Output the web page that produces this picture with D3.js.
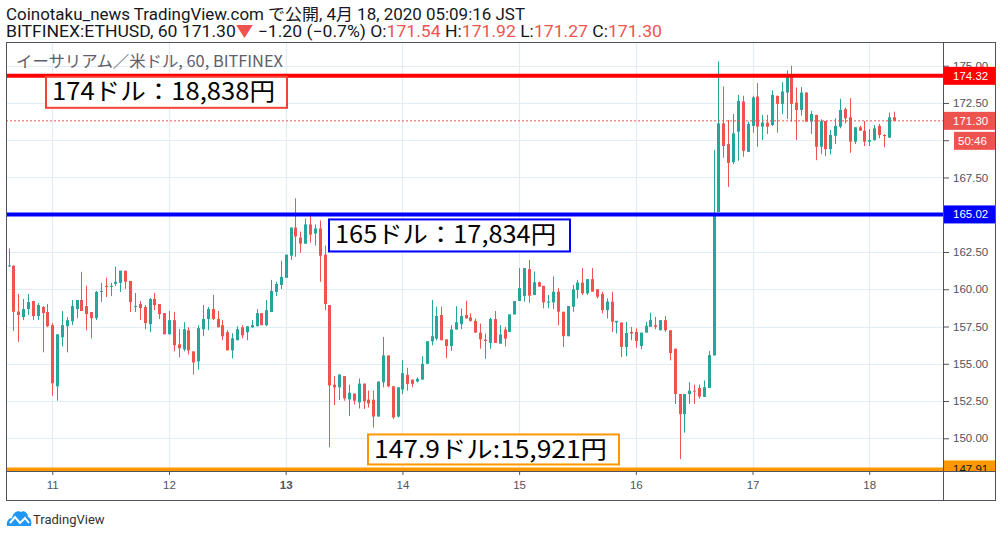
<!DOCTYPE html>
<html><head><meta charset="utf-8">
<script src="https://cdn.jsdelivr.net/npm/d3@7"></script>
<style>body{margin:0;background:#fff;} svg{display:block}</style>
</head><body>
<svg id="c" width="1002" height="537"></svg>
<script>
// ---------- data ----------
const startTime = "2020-04-10T15:00:00Z"; // first hourly candle (JST shown as UTC)
const opens = [161.55,161.58,158.5,158.13,158.67,159.21,158.2,158.81,158.47,157.59,153.49,156.78,157.52,157.86,158.67,159.28,158.87,158.47,158.06,159.82,160.23,160.16,160.36,160.43,161.24,160.56,158.81,159.01,158.81,157.66,159.35,159.01,158.4,156.98,157.93,156.31,155.97,157.25,155.83,155.16,157.32,158.0,158.67,158.0,157.59,157.12,155.9,156.58,157.45,157.12,157.45,157.52,158.4,157.59,158.47,159.82,160.29,160.77,162.25,164.14,163.47,163.06,164.35,163.74,164.08,162.32,158.94,153.6,153.42,154.17,152.61,153.0,152.41,153.67,152.59,152.59,151.46,153.76,155.56,153.49,151.46,153.27,154.26,153.94,153.81,153.94,155.0,156.51,156.69,158.27,156.64,156.19,157.3,157.66,158.27,158.11,157.88,157.09,156.62,156.4,158.0,156.35,157.3,157.14,158.31,159.21,159.55,161.35,159.62,160.47,160.23,159.1,159.12,159.84,158.49,156.85,158.83,159.95,160.45,159.73,160.68,160.0,159.68,158.6,159.17,157.77,157.77,156.13,157.14,157.14,156.19,157.09,157.48,157.59,157.25,157.93,157.25,156.01,152.97,151.62,152.97,153.2,153.38,152.78,153.38,155.56,165.18,171.13,169.74,168.53,170.57,172.6,169.22,170.96,172.93,170.91,171.18,171.02,172.98,172.44,173.2,174.24,172.53,172.03,173.2,171.25,171.7,169.56,171.29,169.4,170.3,170.91,172.08,171.54,169.9,170.87,170.64,169.9,170.01,170.96,170.35,170.17,171.54];
const highs = [162.73,161.6,159.68,159.35,159.68,159.21,159.08,158.87,159.01,157.73,156.98,158.54,158.13,159.28,159.28,161.17,160.23,158.47,159.89,160.43,160.77,160.43,161.51,161.24,161.24,160.56,159.75,159.21,158.94,159.41,159.75,159.01,158.4,158.54,158.47,157.32,157.79,157.45,155.83,157.59,158.94,158.81,159.62,158.54,157.93,157.25,157.05,157.52,157.59,157.52,157.93,158.67,158.4,159.28,160.63,160.5,161.91,162.32,164.14,166.1,163.87,164.75,164.95,164.35,164.62,162.93,158.94,154.17,154.28,154.17,153.6,153.0,154.01,153.67,153.2,153.2,153.81,156.8,155.56,153.49,153.42,155.25,154.73,153.94,154.1,155.5,156.51,159.28,158.83,158.83,156.64,157.59,158.87,158.72,159.23,158.38,158.04,157.7,157.03,158.09,158.54,157.59,157.48,158.31,159.21,161.42,161.42,161.98,161.19,160.52,160.23,159.62,160.86,160.07,158.49,158.87,160.29,160.63,161.42,160.68,161.42,160.0,159.84,159.39,159.84,157.88,157.77,157.82,157.48,157.37,157.09,157.82,158.42,158.15,157.93,158.2,157.25,156.01,152.97,152.97,153.76,153.6,153.61,153.88,155.85,169.34,175.29,173.61,171.36,171.76,173.04,172.98,171.25,172.98,173.83,171.7,171.7,173.34,172.98,173.9,174.69,175.0,173.54,173.56,173.2,171.97,171.7,171.4,171.29,170.69,171.47,172.78,172.19,172.82,170.87,170.96,171.29,170.75,171.02,171.09,170.42,171.85,171.92];
const lows = [161.5,157.21,156.46,157.93,158.27,157.93,157.93,155.77,157.45,152.86,152.52,156.17,155.77,157.59,158.06,158.54,157.25,156.71,157.93,159.14,159.48,159.55,160.23,159.82,160.02,158.47,158.47,157.93,157.32,157.12,158.6,158.0,156.98,156.98,155.83,155.43,155.83,155.63,154.28,154.62,156.85,157.25,157.93,157.45,156.58,155.9,155.36,156.58,156.71,156.58,157.39,157.52,157.59,157.52,158.47,159.55,160.02,160.77,161.98,162.18,162.45,163.06,163.13,162.93,160.5,158.6,149.4,152.23,152.57,152.52,151.49,152.27,152.0,151.96,152.07,150.72,151.46,153.42,153.42,151.28,151.4,152.97,153.2,153.42,153.76,153.94,155.0,156.24,156.58,156.58,155.38,155.86,157.3,157.32,158.04,157.82,157.09,156.01,155.34,156.01,156.4,156.35,156.17,157.14,158.31,159.21,159.17,159.1,159.62,160.18,158.72,158.72,158.67,157.59,156.13,156.85,158.49,159.39,159.62,159.62,159.84,159.39,158.38,158.04,157.14,157.03,155.45,155.5,156.58,156.08,155.97,157.09,157.48,157.32,157.25,157.14,155.23,152.3,148.6,150.38,152.3,152.3,152.66,152.78,153.38,155.56,165.18,168.82,166.87,168.39,168.62,168.89,169.22,170.51,169.56,170.01,170.42,170.96,170.51,171.76,171.43,171.25,170.01,171.65,171.25,170.42,168.66,169.07,168.93,169.04,169.74,170.8,171.13,169.16,169.74,170.64,169.61,169.61,169.97,170.12,169.52,170.17,171.27];
const closes = [161.6,158.49,158.27,158.67,159.14,158.2,158.94,158.4,157.52,153.69,156.98,157.59,157.93,158.87,159.28,158.54,158.33,158.06,159.82,159.89,160.16,160.23,160.5,161.24,160.5,159.14,158.87,158.74,157.73,159.35,158.94,158.33,156.98,157.93,156.24,156.04,157.32,155.9,155.09,157.39,158.0,158.67,158.0,157.45,156.85,155.9,156.71,157.32,156.91,157.52,157.59,158.4,157.59,158.6,159.89,160.36,160.83,162.32,164.14,163.54,163.06,164.35,163.67,164.08,162.25,159.01,153.54,153.42,154.28,152.68,153.06,152.52,153.67,152.48,152.34,151.46,153.81,155.56,153.49,151.4,153.42,154.37,153.65,153.65,153.99,155.0,156.51,156.85,158.2,156.58,156.19,157.3,157.79,158.2,158.04,157.88,157.09,156.64,156.53,158.0,156.4,156.96,156.69,158.31,159.21,160.07,161.42,159.57,160.47,160.18,159.12,159.17,159.84,158.49,156.85,158.87,160.0,160.45,159.73,160.68,159.84,159.5,158.6,159.17,157.82,157.88,156.13,157.07,157.03,156.53,157.09,157.55,157.93,157.48,157.93,157.25,155.72,152.97,151.62,152.97,153.2,153.15,152.8,153.43,155.58,164.96,171.13,169.61,168.48,170.46,172.64,169.29,171.09,172.87,170.91,171.18,170.91,173.04,172.44,173.27,174.24,172.44,172.03,173.2,171.25,171.76,169.56,171.29,169.4,170.35,170.96,172.03,171.47,169.9,170.87,170.64,169.9,170.01,170.8,170.35,170.28,171.54,171.30];

const priceTicks = [150, 152.5, 155, 157.5, 160, 162.5, 165, 167.5, 170, 172.5, 175];
const hiddenTickLabels = [170]; // covered by the countdown box in the reference
const dayTicks = ["2020-04-11","2020-04-12","2020-04-13","2020-04-14","2020-04-15","2020-04-16","2020-04-17","2020-04-18"];
const dayLabels = ["11","12","13","14","15","16","17","18"];

const levels = [174.32, 165.02, 147.91];
const levelColors = ["#ff0000", "#0000ff", "#ff9800"];
const levelTextColors = ["#ffffff", "#ffffff", "#131722"];
const notes = ["174ドル：18,838円", "165ドル：17,834円", "147.9ドル:15,921円"];

const lastPrice = 171.30;
const countdown = "50:46";
const titleLine1 = "Coinotaku_news TradingView.com で公開, 4月 18, 2020 05:09:16 JST";
const titleLine2 = [["BITFINEX:ETHUSD, 60 171.30","#131722"],["▼","#ef5350"],[" −1.20 (−0.7%) O:","#131722"],["171.54","#ef5350"],[" H:","#131722"],["171.92","#ef5350"],[" L:","#131722"],["171.27","#ef5350"],[" C:","#131722"],["171.30","#ef5350"]];
const chartTitle = "イーサリアム／米ドル, 60, BITFINEX";

// ---------- layout ----------
const L = 6, R = 943, T = 42, B = 471, RB = 995, BB = 500;
const UP = "#26a69a", DOWN = "#ef5350", GRID = "#e3ecf3", FRAME = "#50535e";
const FONT = "Roboto, 'Noto Sans CJK JP', 'Liberation Sans', sans-serif";
const AXFONT = "'Liberation Sans', Arial, sans-serif";

const svg = d3.select("#c");
const t0 = new Date(startTime);
const candles = opens.map((o, i) => ({
  t: d3.utcHour.offset(t0, i), o, h: highs[i], l: lows[i], c: closes[i]
}));

const x = d3.scaleUtc()
  .domain([new Date("2020-04-10T14:29:00Z"), new Date("2020-04-18T15:10:00Z")])
  .range([L, R]);
const y = d3.scaleLinear().domain([150, 175]).range([438.3, 65.7]);

// header
svg.append("text").attr("x", 6).attr("y", 20).attr("font-family", FONT).attr("font-size", 16)
  .attr("fill", "#131722").attr("textLength", 519).attr("lengthAdjust", "spacingAndGlyphs").text(titleLine1);
const t2 = svg.append("text").attr("x", 6).attr("y", 37).attr("font-family", FONT).attr("font-size", 16)
  .attr("textLength", 656).attr("lengthAdjust", "spacingAndGlyphs");
t2.selectAll("tspan").data(titleLine2).join("tspan").attr("fill", d => d[1]).text(d => d[0]);

// clips
svg.append("clipPath").attr("id", "plot").append("rect").attr("x", L).attr("y", T).attr("width", R - L).attr("height", B - T);
svg.append("clipPath").attr("id", "axisclip").append("rect").attr("x", R).attr("y", T).attr("width", RB - R).attr("height", B - T);

// grid
const grid = svg.append("g").attr("clip-path", "url(#plot)");
grid.selectAll("line.h").data(priceTicks).join("line")
  .attr("x1", L).attr("x2", R).attr("y1", d => Math.round(y(d)) + 0.5).attr("y2", d => Math.round(y(d)) + 0.5)
  .attr("stroke", GRID).attr("stroke-width", 1.2);
grid.selectAll("line.v").data(dayTicks).join("line")
  .attr("y1", T).attr("y2", B).attr("x1", d => Math.round(x(new Date(d + "T00:00:00Z"))) + 0.5)
  .attr("x2", d => Math.round(x(new Date(d + "T00:00:00Z"))) + 0.5)
  .attr("stroke", GRID).attr("stroke-width", 1.2);

// chart title
svg.append("text").attr("x", 16).attr("y", 67).attr("font-family", "'Noto Sans CJK JP', sans-serif")
  .attr("font-size", 16).attr("fill", "#5d606b").attr("textLength", 267).attr("lengthAdjust", "spacingAndGlyphs")
  .text(chartTitle);

// candles
const cg = svg.append("g").attr("clip-path", "url(#plot)");
const cs = cg.selectAll("g.c").data(candles).join("g");
cs.append("line")
  .attr("x1", d => Math.round(x(d.t)) + 0.5).attr("x2", d => Math.round(x(d.t)) + 0.5)
  .attr("y1", d => y(d.h)).attr("y2", d => y(d.l))
  .attr("stroke", d => d.c >= d.o ? UP : DOWN).attr("stroke-width", 1);
cs.append("rect")
  .attr("x", d => Math.round(x(d.t)) - 1).attr("width", 3)
  .attr("y", d => y(Math.max(d.o, d.c)))
  .attr("height", d => Math.max(1, Math.abs(y(d.o) - y(d.c))))
  .attr("fill", d => d.c >= d.o ? UP : DOWN);

// last price dashed line
cg.append("line").attr("x1", L).attr("x2", R).attr("y1", y(lastPrice)).attr("y2", y(lastPrice))
  .attr("stroke", DOWN).attr("stroke-width", 1).attr("stroke-dasharray", "2,2");

// level lines
cg.selectAll("line.lv").data(levels).join("line")
  .attr("x1", L).attr("x2", R).attr("y1", d => y(d)).attr("y2", d => y(d))
  .attr("stroke", (d, i) => levelColors[i]).attr("stroke-width", 4);

// annotation boxes
const boxes = [
  {x: 46, y: y(levels[0]) + 1, w: 241, h: 31, tx: 52, tb: 23, tl: 223},
  {x: 329, y: y(levels[1]) + 5, w: 241, h: 32, tx: 335, tb: 24, tl: 221},
  {x: 368, y: y(levels[2]) - 35, w: 251, h: 30, tx: 374, tb: 24, tl: 233}
];
boxes.forEach((b, i) => {
  const g = svg.append("g");
  g.append("rect").attr("x", b.x).attr("y", b.y).attr("width", b.w).attr("height", b.h)
    .attr("fill", "#fff").attr("stroke", i === 0 ? "#f44336" : levelColors[i]).attr("stroke-width", 2);
  g.append("text").attr("x", b.tx).attr("y", b.y + b.tb).attr("font-family", "'Noto Sans CJK JP', sans-serif")
    .attr("font-size", 24).attr("fill", "#000").attr("textLength", b.tl).attr("lengthAdjust", "spacingAndGlyphs")
    .text(notes[i]);
});

// frame
svg.append("rect").attr("x", L + 0.5).attr("y", T + 0.5).attr("width", RB - L).attr("height", BB - T)
  .attr("fill", "none").attr("stroke", FRAME).attr("stroke-width", 1);
svg.append("line").attr("x1", R + 0.5).attr("x2", R + 0.5).attr("y1", T).attr("y2", BB).attr("stroke", FRAME);
svg.append("line").attr("x1", L).attr("x2", RB).attr("y1", B + 0.5).attr("y2", B + 0.5).attr("stroke", FRAME);

// price axis
const yAxis = d3.axisRight(y).tickValues(priceTicks).tickSize(5).tickPadding(4)
  .tickFormat(d => hiddenTickLabels.includes(d) ? "" : d3.format(".2f")(d));
const yaWrap = svg.append("g").attr("clip-path", "url(#axisclip)");
const ya = yaWrap.append("g").attr("transform", `translate(${R + 1},0)`).call(yAxis);
ya.select(".domain").remove();
ya.selectAll("line").attr("stroke", "#50535e");
ya.selectAll("text").attr("font-family", AXFONT).attr("font-size", 11.5).attr("fill", "#50535e");

// axis price labels
const al = svg.append("g").attr("clip-path", "url(#axisclip)");
const axisLabels = [
  {v: levels[0], bg: levelColors[0], fg: levelTextColors[0]},
  {v: lastPrice, bg: DOWN, fg: "#fff"},
  {v: levels[1], bg: levelColors[1], fg: levelTextColors[1]},
  {v: levels[2], bg: levelColors[2], fg: levelTextColors[2]}
];
axisLabels.forEach(a => {
  al.append("rect").attr("x", R + 1).attr("y", y(a.v) - 9).attr("width", RB - R - 1).attr("height", 18).attr("fill", a.bg);
  al.append("text").attr("x", 953).attr("y", y(a.v) + 4).attr("font-family", AXFONT)
    .attr("font-size", 11.5).attr("fill", a.fg).text(a.v.toFixed(2));
});
al.append("rect").attr("x", 954).attr("y", y(lastPrice) + 11).attr("width", RB - 954).attr("height", 18).attr("fill", DOWN);
al.append("text").attr("x", 958).attr("y", y(lastPrice) + 24).attr("font-family", AXFONT)
  .attr("font-size", 11.5).attr("fill", "#fff").text(countdown);

// time axis
const xAxis = d3.axisBottom(x).tickValues(dayTicks.map(d => new Date(d + "T00:00:00Z")))
  .tickSize(4).tickPadding(6).tickFormat((d, i) => dayLabels[i]);
const xa = svg.append("g").attr("transform", `translate(0,${B})`).call(xAxis);
xa.select(".domain").remove();
xa.selectAll("line").attr("stroke", "#50535e");
xa.selectAll("text").attr("font-family", AXFONT).attr("font-size", 11.5)
  .attr("fill", "#50535e").attr("font-weight", (d, i) => dayLabels[i] === "13" ? "bold" : "normal");

// footer logo
const logo = svg.append("g").attr("transform", "translate(6,510)");
logo.append("path").attr("d", "M1,16 C0,11 3,8 6,8 C7,3 11,0 15,2 C18,0 22,3 22,7 C25,8 26,12 25,16 Z").attr("fill", "#2196f3");
logo.append("path").attr("d", "M4,13 L9,7 L14,13 L19,8 L23,13").attr("fill", "none").attr("stroke", "#fff").attr("stroke-width", 2);
svg.append("text").attr("x", 33).attr("y", 524).attr("font-family", "Roboto, 'Liberation Sans', sans-serif")
  .attr("font-size", 13).attr("fill", "#333").text("TradingView");
</script>
</body></html>
